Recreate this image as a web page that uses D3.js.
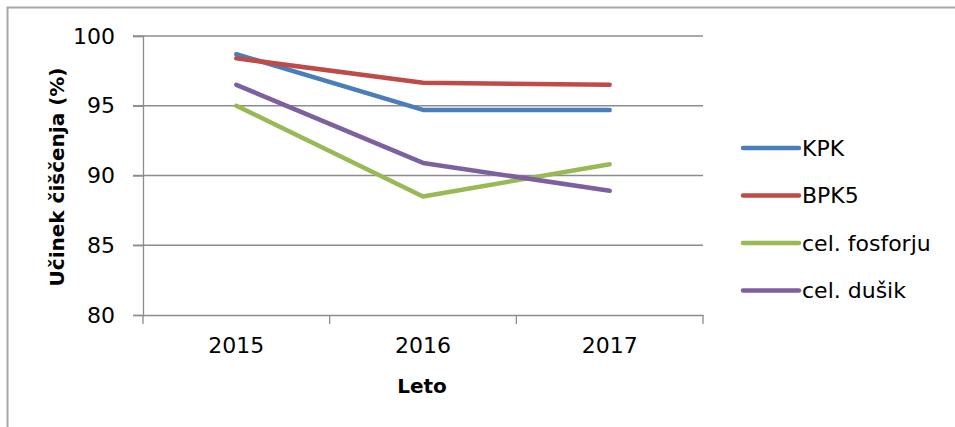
<!DOCTYPE html>
<html>
<head>
<meta charset="utf-8">
<script src="https://cdn.jsdelivr.net/npm/d3@7"></script>
<style>
  body { margin: 0; background: #fff; }
  svg { display: block; }
</style>
</head>
<body>
<svg id="canvas" width="955" height="427"></svg>
<script>
// data
var years = ['2015', '2016', '2017'];
var seriesNames = ['KPK', 'BPK5', 'cel. fosforju', 'cel. dušik'];
var kpk = [98.7, 94.7, 94.7];
var bpk5 = [98.4, 96.65, 96.5];
var fosfor = [95.0, 88.5, 90.8];
var dusik = [96.5, 90.9, 88.9];
var yTicks = [80, 85, 90, 95, 100];

var colors = ['#4A7EBB', '#BE4B48', '#98B954', '#7D60A0'];
var allSeries = [kpk, bpk5, fosfor, dusik];

var svg = d3.select('#canvas');
var font = '"DejaVu Sans", Verdana, sans-serif';

// outer chart border (only top and left visible)
svg.append('path')
  .attr('d', 'M7.5,427 L7.5,7.5 L955,7.5')
  .attr('fill', 'none').attr('stroke', '#a6a6a6').attr('stroke-width', 2);

var plot = { left: 143, right: 703, top: 36, bottom: 315 };

var x = d3.scaleBand().domain(years).range([plot.left, plot.right]);
var y = d3.scaleLinear().domain([80, 100]).range([plot.bottom, plot.top]);

// gridlines
svg.append('g').selectAll('line').data(yTicks.filter(d => d > 80)).join('line')
  .attr('x1', plot.left - 10).attr('x2', plot.right)
  .attr('y1', d => y(d)).attr('y2', d => y(d))
  .attr('stroke', '#8c8c8c').attr('stroke-width', 1.3);

// y axis
var yAxis = svg.append('g').attr('transform', 'translate(' + plot.left + ',0)')
  .call(d3.axisLeft(y).tickValues(yTicks).tickSize(10).tickPadding(18));
yAxis.select('.domain').attr('stroke', '#8c8c8c').attr('stroke-width', 1.3);
yAxis.selectAll('.tick line').attr('stroke', '#8c8c8c').attr('stroke-width', 1.3);
yAxis.selectAll('.tick text').attr('font-family', font).attr('font-size', 22).attr('fill', '#000');

// x axis
var xAxis = svg.append('g').attr('transform', 'translate(0,' + plot.bottom + ')')
  .call(d3.axisBottom(x).tickSize(0).tickPadding(22));
xAxis.select('.domain').attr('stroke', '#8c8c8c').attr('stroke-width', 1.3);
xAxis.selectAll('.tick text').attr('font-family', font).attr('font-size', 22).attr('fill', '#000');
// category boundary ticks
var bounds = years.map(d => x(d)).concat([plot.right]);
svg.append('g').selectAll('line').data(bounds).join('line')
  .attr('x1', d => d).attr('x2', d => d)
  .attr('y1', plot.bottom).attr('y2', plot.bottom + 9)
  .attr('stroke', '#8c8c8c').attr('stroke-width', 1.3);

// axis titles
svg.append('text')
  .attr('transform', 'translate(64,177) rotate(-90)')
  .attr('text-anchor', 'middle')
  .attr('font-family', font).attr('font-weight', 'bold').attr('font-size', 20)
  .text('Učinek čiščenja (%)');
svg.append('text')
  .attr('x', 422).attr('y', 393)
  .attr('text-anchor', 'middle')
  .attr('font-family', font).attr('font-weight', 'bold').attr('font-size', 20)
  .text('Leto');

// lines
var lineGen = d3.line().x((d, i) => x(years[i]) + x.bandwidth() / 2).y(d => y(d));
svg.append('g').selectAll('path').data(allSeries).join('path')
  .attr('d', d => lineGen(d))
  .attr('fill', 'none')
  .attr('stroke', (d, i) => colors[i])
  .attr('stroke-width', 4.5)
  .attr('stroke-linecap', 'round')
  .attr('stroke-linejoin', 'round');

// legend
var legend = svg.append('g').attr('transform', 'translate(743,148)');
var item = legend.selectAll('g').data(seriesNames).join('g')
  .attr('transform', (d, i) => 'translate(0,' + (i * 47.5) + ')');
item.append('line')
  .attr('x1', 0).attr('x2', 56).attr('y1', 0).attr('y2', 0)
  .attr('stroke', (d, i) => colors[i]).attr('stroke-width', 4.5).attr('stroke-linecap', 'round');
item.append('text')
  .attr('x', 59).attr('y', 0).attr('dy', '0.36em')
  .attr('font-family', font).attr('font-size', 22).attr('fill', '#000')
  .text(d => d);
</script>
</body>
</html>
